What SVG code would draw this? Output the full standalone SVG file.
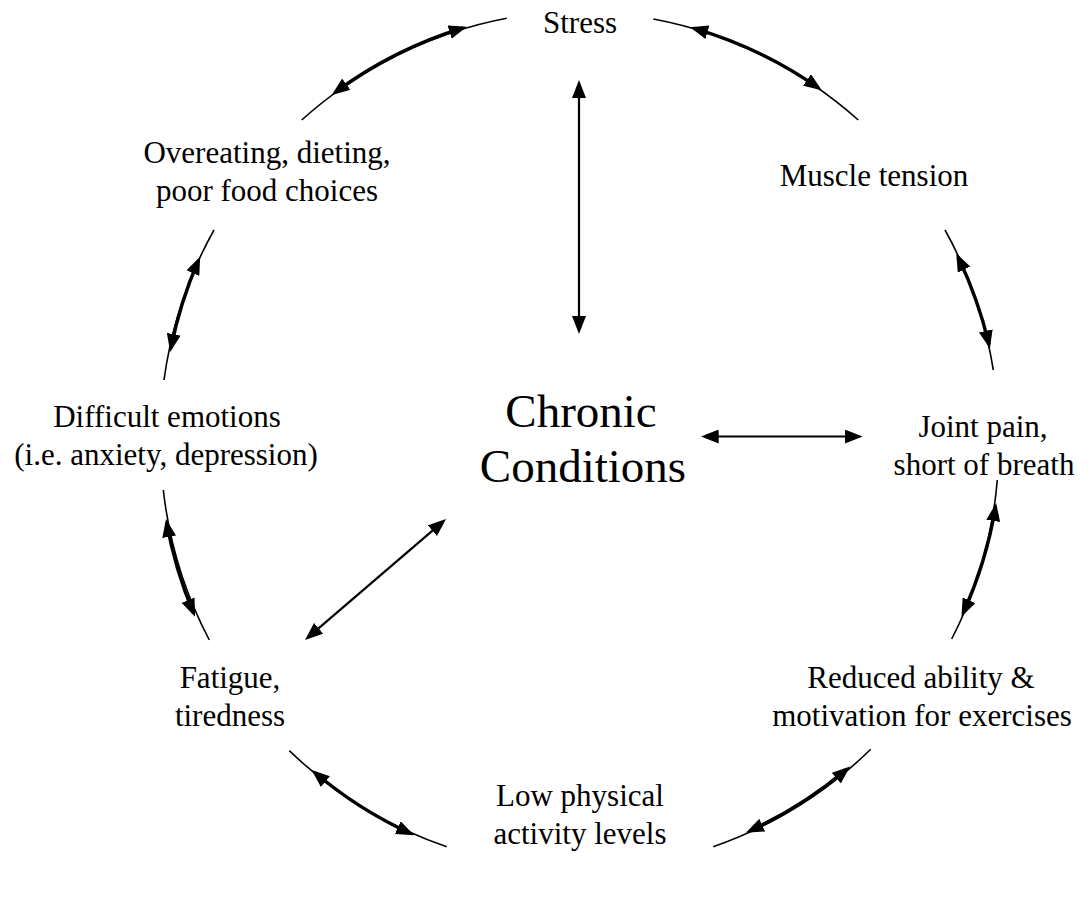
<svg xmlns="http://www.w3.org/2000/svg" width="1089" height="905" viewBox="0 0 1089 905">
<style>
.lbl{font-size:31px;text-anchor:middle;fill:#000;font-family:"Liberation Serif",serif}
.big{font-size:47px;text-anchor:middle;fill:#000;font-family:"Liberation Serif",serif}
.thin{fill:none;stroke:#000;stroke-width:1.6}
.thick{fill:none;stroke:#000;stroke-width:3.4}
.str{fill:none;stroke:#000;stroke-width:2.2}
</style>
<defs>
<marker id="ah" viewBox="0 0 18 14" markerWidth="18" markerHeight="14" refX="14" refY="7" orient="auto-start-reverse" markerUnits="userSpaceOnUse">
<path d="M0,0 L18,7 L0,14 z" fill="#000"/>
</marker>
</defs>
<rect width="1089" height="905" fill="#fff"/>
<g id="connectors">
<path class="thin" d="M301.7,120 A425,425 0 0 1 506.7,18.3"/>
<path class="thick" marker-start="url(#ah)" marker-end="url(#ah)" d="M335,92.5 A425,425 0 0 1 463,28"/>
<path class="thin" d="M653.3,19 A425,425 0 0 1 858.3,120"/>
<path class="thick" marker-start="url(#ah)" marker-end="url(#ah)" d="M694,28.3 A425,425 0 0 1 818.5,88"/>
<path class="thin" d="M945,230 A425,425 0 0 1 993.3,370"/>
<path class="thick" marker-start="url(#ah)" marker-end="url(#ah)" d="M958,257 A425,425 0 0 1 989,344.5"/>
<path class="thin" d="M997.3,480 A425,425 0 0 1 951.7,639"/>
<path class="thick" marker-start="url(#ah)" marker-end="url(#ah)" d="M995.5,507 A425,425 0 0 1 963.2,613"/>
<path class="thin" d="M870.7,749.3 A425,425 0 0 1 713.3,846.7"/>
<path class="thick" marker-start="url(#ah)" marker-end="url(#ah)" d="M847,769 A425,425 0 0 1 749.5,831"/>
<path class="thin" d="M446.7,846.7 A425,425 0 0 1 289.3,750.7"/>
<path class="thick" marker-start="url(#ah)" marker-end="url(#ah)" d="M410.5,833.5 A425,425 0 0 1 314.7,772.5"/>
<path class="thin" d="M209.3,640 A425,425 0 0 1 163.3,490"/>
<path class="thick" marker-start="url(#ah)" marker-end="url(#ah)" d="M193.5,613 A425,425 0 0 1 166.7,523"/>
<path class="thin" d="M164,380 A425,425 0 0 1 214,230"/>
<path class="thick" marker-start="url(#ah)" marker-end="url(#ah)" d="M171,348 A425,425 0 0 1 198.5,260.3"/>
<path class="str" marker-start="url(#ah)" marker-end="url(#ah)" d="M579,84 L579,330"/>
<path class="str" marker-start="url(#ah)" marker-end="url(#ah)" d="M704.7,436.5 L858.7,436.5"/>
<path class="str" marker-start="url(#ah)" marker-end="url(#ah)" d="M443,521.6 L308,637.4"/>
</g>
<g id="stress"><text class="lbl" x="580" y="33">Stress</text></g>
<g id="muscle"><text class="lbl" x="874" y="186">Muscle tension</text></g>
<g id="joint"><text class="lbl" x="983" y="437">Joint pain,</text><text class="lbl" x="984" y="475">short of breath</text></g>
<g id="reduced"><text class="lbl" x="921" y="688">Reduced ability &amp;</text><text class="lbl" x="922" y="726">motivation for exercises</text></g>
<g id="low"><text class="lbl" x="580" y="806">Low physical</text><text class="lbl" x="580" y="844">activity levels</text></g>
<g id="fatigue"><text class="lbl" x="230" y="688">Fatigue,</text><text class="lbl" x="230" y="726">tiredness</text></g>
<g id="emotions"><text class="lbl" x="167" y="427">Difficult emotions</text><text class="lbl" x="166" y="465">(i.e. anxiety, depression)</text></g>
<g id="overeating"><text class="lbl" x="267" y="163">Overeating, dieting,</text><text class="lbl" x="267" y="201">poor food choices</text></g>
<g id="chronic"><text class="big" x="581" y="427">Chronic</text><text class="big" x="583" y="482">Conditions</text></g>
</svg>
